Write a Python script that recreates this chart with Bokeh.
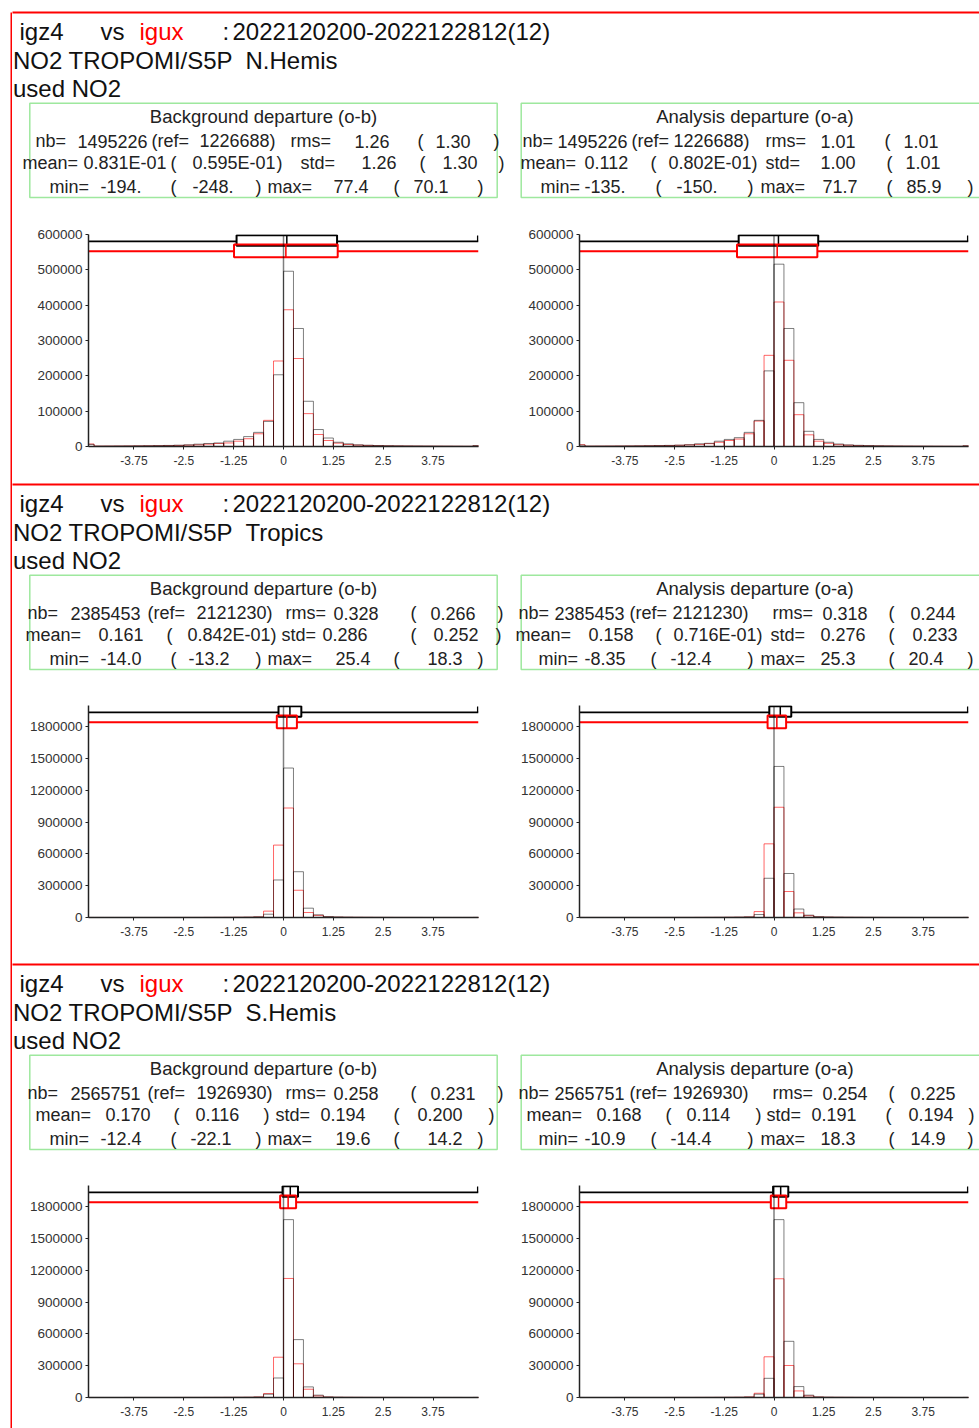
from bokeh.plotting import figure
from bokeh.layouts import row, column
from bokeh.models import Range1d, FixedTicker, CustomJSTickFormatter
from bokeh.core.properties import value
from bokeh.embed import file_html
from bokeh.resources import INLINE

# ---------------- data ----------------
EXPERIMENT = "igz4"
REFERENCE = "igux"
VS = "vs"
PERIOD = "2022120200-2022122812(12)"
OBS_TYPE = "NO2 TROPOMI/S5P"
USED = "used NO2"
REGIONS = ["N.Hemis", "Tropics", "S.Hemis"]
DEPARTURES = ["Background departure (o-b)", "Analysis departure (o-a)"]

BIN_LEFT = [-5.0, -4.75, -4.5, -4.25, -4.0, -3.75, -3.5, -3.25, -3.0, -2.75,
            -2.5, -2.25, -2.0, -1.75, -1.5, -1.25, -1.0, -0.75, -0.5, -0.25,
            0.0, 0.25, 0.5, 0.75, 1.0, 1.25, 1.5, 1.75, 2.0, 2.25,
            2.5, 2.75, 3.0, 3.25, 3.5, 3.75, 4.0, 4.25, 4.5, 4.75]
BIN_WIDTH = 0.25
X_TICKS = [-3.75, -2.5, -1.25, 0, 1.25, 2.5, 3.75]
Y_TICKS_NH = [0, 100000, 200000, 300000, 400000, 500000, 600000]
Y_TICKS_TR = [0, 300000, 600000, 900000, 1200000, 1500000, 1800000]
Y_TICKS_SH = [0, 300000, 600000, 900000, 1200000, 1500000, 1800000]
Y_MAX = [600000, 2000000, 2000000]
X_LIMIT = 4.89

# counts per 0.25 bin (experiment = black, reference = red)
NH_OB_EXP = [6000, 1000, 1100, 1300, 1500, 1800, 2100, 2500, 3000, 3600,
             4700, 6600, 8500, 10000, 15000, 20000, 28000, 40000, 71000, 203000,
             496000, 334000, 128000, 48000, 24000, 12000, 7500, 4700, 3500, 2800,
             2200, 1800, 1500, 1300, 1100, 900, 800, 700, 600, 2500]
NH_OB_REF = [7000, 1000, 1100, 1200, 1400, 1600, 1900, 2200, 2600, 3000,
             3800, 4700, 6600, 8500, 10000, 15000, 22000, 36000, 74000, 242000,
             387000, 249000, 93000, 34000, 17000, 9500, 5700, 3800, 3000, 2300,
             1800, 1500, 1200, 1000, 900, 800, 700, 600, 500, 2000]
NH_OA_EXP = [4000, 900, 1000, 1100, 1300, 1500, 1800, 2200, 2600, 3100,
             3800, 5000, 7500, 9000, 15000, 20000, 25000, 40000, 74000, 214000,
             516000, 334000, 124000, 43000, 20000, 12000, 7000, 4500, 3300, 2600,
             2000, 1600, 1300, 1100, 900, 800, 700, 600, 500, 2000]
NH_OA_REF = [5000, 900, 1000, 1100, 1200, 1400, 1600, 2000, 2400, 2800,
             3400, 4500, 6000, 8000, 12000, 17000, 21000, 36000, 72000, 258000,
             409000, 244000, 90000, 33000, 15000, 9000, 5000, 3500, 2600, 2000,
             1600, 1300, 1100, 900, 800, 700, 600, 500, 400, 1800]
TR_OB_EXP = [300, 300, 300, 300, 300, 400, 400, 500, 500, 600,
             700, 800, 1000, 1200, 1500, 2000, 3000, 6000, 31000, 354000,
             1410000, 432000, 88000, 25000, 9000, 5000, 3000, 2000, 1500, 1200,
             1000, 800, 700, 600, 500, 400, 400, 300, 300, 800]
TR_OB_REF = [300, 300, 300, 300, 300, 300, 400, 400, 500, 500,
             600, 700, 900, 1100, 1400, 1800, 2500, 5000, 60000, 683000,
             1033000, 257000, 47000, 20000, 5000, 3000, 2000, 1500, 1200, 1000,
             800, 700, 600, 500, 400, 400, 300, 300, 300, 600]
TR_OA_EXP = [300, 300, 300, 300, 300, 400, 400, 500, 500, 600,
             700, 800, 1000, 1200, 1500, 2000, 3000, 5500, 28000, 370000,
             1425000, 415000, 80000, 22000, 8000, 4500, 3000, 2000, 1500, 1200,
             1000, 800, 700, 600, 500, 400, 400, 300, 300, 800]
TR_OA_REF = [300, 300, 300, 300, 300, 300, 400, 400, 500, 500,
             600, 700, 900, 1100, 1400, 1800, 2500, 4800, 56000, 695000,
             1040000, 245000, 44000, 17000, 5000, 3000, 2000, 1500, 1200, 1000,
             800, 700, 600, 500, 400, 400, 300, 300, 300, 600]
SH_OB_EXP = [200, 200, 200, 200, 300, 300, 300, 400, 400, 500,
             600, 700, 800, 1000, 1200, 1500, 2000, 4000, 31000, 184000,
             1678000, 546000, 100000, 22000, 5000, 2500, 1500, 1200, 1000, 800,
             700, 600, 500, 400, 400, 300, 300, 300, 200, 600]
SH_OB_REF = [200, 200, 200, 200, 300, 300, 300, 400, 400, 500,
             600, 700, 800, 1000, 1200, 1500, 2000, 4500, 37000, 380000,
             1123000, 318000, 78000, 15000, 4000, 2000, 1500, 1200, 1000, 800,
             700, 600, 500, 400, 400, 300, 300, 300, 200, 500]
SH_OA_EXP = [200, 200, 200, 200, 300, 300, 300, 400, 400, 500,
             600, 700, 800, 1000, 1200, 1500, 2000, 4000, 31000, 181000,
             1678000, 530000, 103000, 22000, 5000, 2500, 1500, 1200, 1000, 800,
             700, 600, 500, 400, 400, 300, 300, 300, 200, 600]
SH_OA_REF = [200, 200, 200, 200, 300, 300, 300, 400, 400, 500,
             600, 700, 800, 1000, 1200, 1500, 2000, 4800, 40000, 384000,
             1120000, 302000, 62000, 15000, 4000, 2000, 1500, 1200, 1000, 800,
             700, 600, 500, 400, 400, 300, 300, 300, 200, 500]

NH_OB_STATS = dict(nb="1495226", ref="1226688", rms="1.26", rms_ref="1.30",
                   mean="0.831E-01", mean_ref="0.595E-01", std="1.26", std_ref="1.30",
                   min="-194.", min_ref="-248.", max="77.4", max_ref="70.1")
NH_OA_STATS = dict(nb="1495226", ref="1226688", rms="1.01", rms_ref="1.01",
                   mean="0.112", mean_ref="0.802E-01", std="1.00", std_ref="1.01",
                   min="-135.", min_ref="-150.", max="71.7", max_ref="85.9")
TR_OB_STATS = dict(nb="2385453", ref="2121230", rms="0.328", rms_ref="0.266",
                   mean="0.161", mean_ref="0.842E-01", std="0.286", std_ref="0.252",
                   min="-14.0", min_ref="-13.2", max="25.4", max_ref="18.3")
TR_OA_STATS = dict(nb="2385453", ref="2121230", rms="0.318", rms_ref="0.244",
                   mean="0.158", mean_ref="0.716E-01", std="0.276", std_ref="0.233",
                   min="-8.35", min_ref="-12.4", max="25.3", max_ref="20.4")
SH_OB_STATS = dict(nb="2565751", ref="1926930", rms="0.258", rms_ref="0.231",
                   mean="0.170", mean_ref="0.116", std="0.194", std_ref="0.200",
                   min="-12.4", min_ref="-22.1", max="19.6", max_ref="14.2")
SH_OA_STATS = dict(nb="2565751", ref="1926930", rms="0.254", rms_ref="0.225",
                   mean="0.168", mean_ref="0.114", std="0.191", std_ref="0.194",
                   min="-10.9", min_ref="-14.4", max="18.3", max_ref="14.9")

COUNTS = [[(NH_OB_EXP, NH_OB_REF), (NH_OA_EXP, NH_OA_REF)],
          [(TR_OB_EXP, TR_OB_REF), (TR_OA_EXP, TR_OA_REF)],
          [(SH_OB_EXP, SH_OB_REF), (SH_OA_EXP, SH_OA_REF)]]
STATS = [[NH_OB_STATS, NH_OA_STATS], [TR_OB_STATS, TR_OA_STATS], [SH_OB_STATS, SH_OA_STATS]]
Y_TICKS = [Y_TICKS_NH, Y_TICKS_TR, Y_TICKS_SH]

# ---------------- layout / style ----------------
FONT = value("Liberation Sans")
PANEL_TOP = [12, 484, 964]
HDR_SPAN = [(0, 220), (482, 691), (962, 1171)]
HIST_SPAN = [(220, 482), (691, 962), (1171, 1428)]
BOX_X = [(29.3, 496.7), (520.7, 988.0)]
FRAME_H = 212
VISIBLE_X = 975

# x position of each token of the three statistics lines, per panel / side
TOKEN_X = {
    (0, 0): ([35, 77, 151, 199, 290, 354, 417, 435, 493],
             [22, 83, 170, 192, 276, 300, 361, 419, 442, 498],
             [49, 100, 170, 192, 255, 267, 333, 393, 413, 477]),
    (0, 1): ([522, 557, 631, 673, 765, 820, 884, 903, 985],
             [520, 584, 650, 668, 751, 765, 820, 886, 905, 990],
             [540, 584, 655, 676, 747, 760, 822, 886, 906, 967]),
    (1, 0): ([27, 70, 147, 196, 285, 333, 410, 430, 497],
             [25, 98, 166, 187, 270, 281, 322, 410, 433, 495],
             [49, 100, 170, 188, 255, 267, 335, 393, 427, 477]),
    (1, 1): ([518, 554, 629, 672, 772, 822, 888, 910, 990],
             [515, 588, 655, 673, 756, 770, 820, 888, 912, 990],
             [538, 584, 650, 670, 747, 760, 820, 888, 908, 967]),
    (2, 0): ([27, 70, 147, 196, 285, 333, 410, 430, 497],
             [35, 105, 173, 195, 263, 275, 320, 393, 417, 488],
             [49, 100, 170, 190, 255, 267, 335, 393, 427, 477]),
    (2, 1): ([518, 554, 629, 672, 772, 822, 888, 910, 990],
             [526, 596, 665, 686, 755, 766, 811, 885, 908, 968],
             [538, 584, 650, 670, 747, 760, 820, 888, 910, 967]),
}


def stat_lines(s):
    a = ["nb=", s["nb"], "(ref=", s["ref"] + ")", "rms=", s["rms"], "(", s["rms_ref"], ")"]
    b = ["mean=", s["mean"], "(", s["mean_ref"], ")", "std=", s["std"], "(", s["std_ref"], ")"]
    c = ["min=", s["min"], "(", s["min_ref"], ")", "max=", s["max"], "(", s["max_ref"], ")"]
    return [a, b, c]


def base_fig(**kw):
    p = figure(output_backend="svg", toolbar_location=None, **kw)
    p.outline_line_color = None
    p.background_fill_color = "white"
    p.border_fill_color = "white"
    return p


def header(k):
    y0, y1 = HDR_SPAN[k]
    top = PANEL_TOP[k]
    p = base_fig(width=967, height=y1 - y0, x_range=Range1d(12, 979), y_range=Range1d(y1, y0),
                 x_axis_type=None, y_axis_type=None, min_border=0)
    p.grid.visible = False
    p.segment(x0=[0], y0=[top], x1=[979], y1=[top], line_color="red", line_width=2)
    b1, b2, b3 = top + 19, top + 48, top + 76
    p.text(x=[19, 100, 222, 232], y=[b1] * 4, text=[EXPERIMENT, VS, ":", PERIOD],
           text_font=FONT, text_font_size="24px", text_color="#111", text_baseline="middle")
    p.text(x=[139], y=[b1], text=[REFERENCE], text_font=FONT, text_font_size="24px",
           text_color="red", text_baseline="middle")
    p.text(x=[12.5, 245, 12.5], y=[b2, b2, b3], text=[OBS_TYPE, REGIONS[k], USED],
           text_font=FONT, text_font_size="24px", text_color="#111", text_baseline="middle")
    for side in (0, 1):
        bl, br = BOX_X[side]
        p.quad(left=[bl], right=[br], top=[top + 90.7], bottom=[top + 185], fill_color=None,
               line_color="#9ee89e", line_width=1.5)
        p.text(x=[(bl + br) / 2], y=[top + 104], text=[DEPARTURES[side]], text_align="center",
               text_baseline="middle", text_font=FONT, text_font_size="18.5px", text_color="#222")
        lines = stat_lines(STATS[k][side])
        xs = TOKEN_X[(k, side)]
        for li, ly in enumerate([top + 128.7, top + 150.3, top + 174]):
            keep = [i for i, x in enumerate(xs[li]) if x < VISIBLE_X]
            p.text(x=[xs[li][i] for i in keep], y=[ly] * len(keep),
                   text=[lines[li][i] for i in keep], text_baseline="middle",
                   text_font=FONT, text_font_size="18px", text_color="#222")
    return p


def hist(k, side):
    y0, y1 = HIST_SPAN[k]
    h = y1 - y0
    if side == 0:
        w, mbl, mbr = 478, 76, 12
    else:
        w, mbl, mbr = 489, 89, 11
    mbt = 14
    mbb = h - mbt - FRAME_H
    ymax = Y_MAX[k]
    p = base_fig(width=w, height=h, x_range=Range1d(-X_LIMIT, X_LIMIT), y_range=Range1d(0, ymax),
                 min_border_left=mbl, min_border_right=mbr, min_border_top=mbt, min_border_bottom=mbb)
    p.grid.visible = False
    p.xaxis.ticker = FixedTicker(ticks=X_TICKS)
    p.yaxis.ticker = FixedTicker(ticks=Y_TICKS[k])
    p.xaxis.formatter = CustomJSTickFormatter(code="return String(tick);")
    p.yaxis.formatter = CustomJSTickFormatter(code="return String(tick);")
    p.axis.axis_line_color = "#222"
    p.axis.axis_line_width = 1.5
    p.axis.major_tick_line_color = "#222"
    p.axis.major_tick_in = 0
    p.axis.major_tick_out = 3
    p.axis.minor_tick_line_color = None
    p.axis.major_label_text_font = "Liberation Sans"
    p.axis.major_label_text_color = "#333"
    p.xaxis.major_label_text_font_size = "12px"
    p.yaxis.major_label_text_font_size = "13.5px"
    p.xaxis.major_label_standoff = 6
    p.yaxis.major_label_standoff = 3

    exp_c, ref_c = COUNTS[k][side]
    rights = [l + BIN_WIDTH for l in BIN_LEFT]
    p.quad(left=BIN_LEFT, right=rights, bottom=0, top=ref_c, fill_color=None,
           line_color="red", line_alpha=0.6, line_width=1)
    p.quad(left=BIN_LEFT, right=rights, bottom=0, top=exp_c, fill_color=None,
           line_color="black", line_alpha=0.5, line_width=1)

    s = STATS[k][side]
    specs = [(float(s["mean"]), float(s["std"]), float(s["min"]), float(s["max"]), "black",
              0.947, 0.997, 0.968, True),
             (float(s["mean_ref"]), float(s["std_ref"]), float(s["min_ref"]), float(s["max_ref"]),
              "red", 0.893, 0.953, 0.921, False)]
    for mean, std, vmin, vmax, col, yb, yt, yw, hook in specs:
        xa = max(vmin, -X_LIMIT)
        xb = min(vmax, X_LIMIT)
        p.segment(x0=[xa, mean + std], x1=[mean - std, xb], y0=[yw * ymax] * 2, y1=[yw * ymax] * 2,
                  line_color=col, line_width=1.8)
        p.quad(left=[mean - std], right=[mean + std], bottom=[yb * ymax], top=[yt * ymax],
               fill_color=None, line_color=col, line_width=2)
        p.segment(x0=[mean], x1=[mean], y0=[yb * ymax], y1=[yt * ymax], line_color=col, line_width=1.5)
        if hook:
            p.segment(x0=[xb - 0.02], x1=[xb - 0.02], y0=[yw * ymax], y1=[0.995 * ymax],
                      line_color=col, line_width=1.5)
    p.segment(x0=[0], x1=[0], y0=[0], y1=[ymax], line_color="black", line_width=1.5, line_dash="1 1")
    return p


strip = base_fig(width=12, height=1428, x_range=Range1d(0, 12), y_range=Range1d(1428, 0),
                 x_axis_type=None, y_axis_type=None, min_border=0)
strip.grid.visible = False
strip.segment(x0=[11], y0=[12], x1=[11], y1=[1428], line_color="red", line_width=2)

blocks = []
for k in range(3):
    blocks.append(header(k))
    blocks.append(row(hist(k, 0), hist(k, 1)))

layout = row(strip, column(*blocks))
open("out.html", "w").write(file_html(layout, INLINE))
